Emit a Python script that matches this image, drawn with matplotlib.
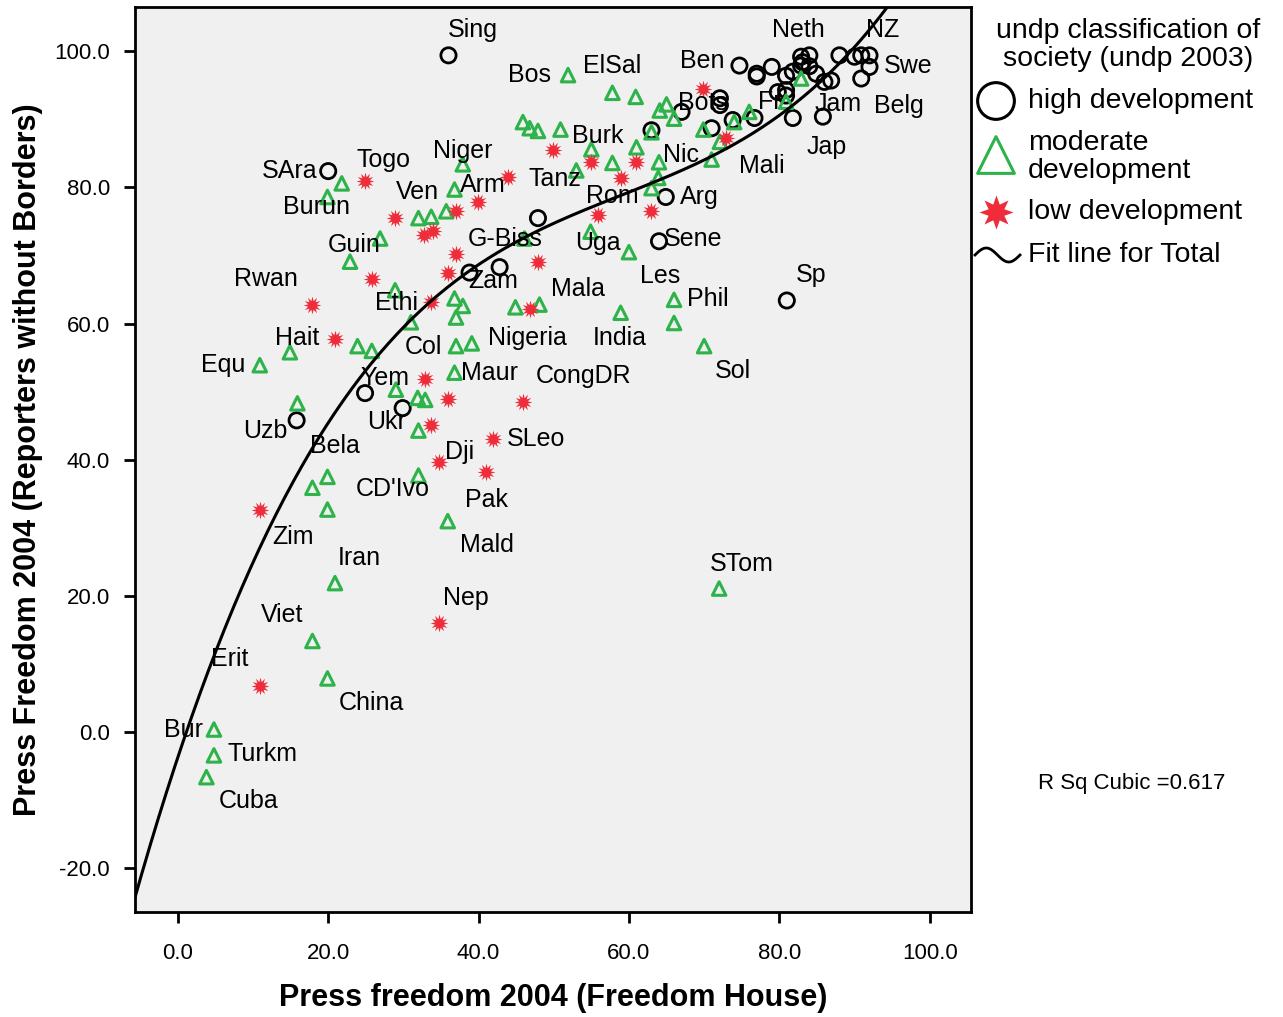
import numpy as np
import matplotlib.pyplot as plt

plt.rcParams['font.family'] = ['Liberation Sans', 'DejaVu Sans']

# high development (Kreise)
hi_x = [36, 20, 74.7, 77, 77, 79, 80.9, 81.8, 82.9, 83.1, 84, 82.9, 84, 84.9, 86, 86.9,
        88, 90, 90.9, 92, 92, 90.9, 79.8, 80.9, 80.9, 81.8, 85.8, 76.7, 72.1, 72.1, 73.8,
        71, 67, 63, 64.9, 64, 81, 47.9, 38.8, 42.8, 24.9, 29.9, 15.8]
hi_y = [99.4, 82.4, 97.9, 96.7, 96.3, 97.7, 96.4, 97, 99.2, 98.4, 99.4, 97.9, 97.8, 96.7, 95.5, 95.7,
        99.4, 99.2, 99.4, 99.4, 97.7, 96, 94, 94.3, 93.5, 90.2, 90.4, 90.2, 93.1, 92.1, 89.9,
        88.7, 91.1, 88.4, 78.6, 72.1, 63.4, 75.5, 67.5, 68.3, 49.8, 47.6, 45.8]

# moderate development (Dreiecke)
mod_x = [21.8, 19.9, 32, 33.7, 35.7, 36.8, 37.9, 26.9, 22.9, 28.9, 31, 23.9, 25.8, 14.9,
         10.9, 29, 31.9, 32.9, 32, 15.9, 36.8, 37.9, 37, 44.9, 48.1, 58.9, 66, 66, 70,
         37, 39.1, 36.8, 54.9, 60, 46.1, 51.9, 57.8, 60.9, 45.9, 46.8, 47.9, 50.9, 55,
         61, 57.8, 64, 63.9, 63, 53, 63, 64.1, 65, 66, 69.9, 71, 72.1, 74, 76, 80.9,
         82.9, 19.9, 17.9, 19.9, 32, 20.9, 17.9, 19.9, 35.9, 72, 4.8, 4.8, 3.8]
mod_y = [80.6, 78.6, 75.5, 75.7, 76.5, 79.7, 83.4, 72.5, 69.1, 64.9, 60.2, 56.7, 56, 55.8,
         53.9, 50.3, 49.1, 48.8, 44.3, 48.3, 63.7, 62.6, 60.9, 62.4, 62.8, 61.6, 63.5, 60.1, 56.7,
         56.7, 57.1, 52.8, 73.5, 70.5, 72.5, 96.5, 93.9, 93.3, 89.6, 88.7, 88.3, 88.5, 85.6,
         85.9, 83.6, 83.7, 81.4, 79.9, 82.5, 88.1, 91.3, 92.2, 90.1, 88.5, 84.1, 86.7, 89.6, 91.1, 92.6,
         96, 37.5, 35.9, 32.7, 37.7, 21.9, 13.4, 7.9, 31, 21.1, 0.4, -3.4, -6.6]

# low development (Sterne)
low_x = [24.9, 28.9, 32.8, 33.9, 37, 39.9, 43.9, 49.9, 55, 61, 58.9, 55.9, 63, 69.9, 72.9,
         25.8, 17.9, 20.9, 33.7, 32.9, 33.7, 37, 35.9, 47.9, 46.9, 35.9, 45.9, 41.9, 34.8,
         41, 34.8, 10.9, 10.9]
low_y = [81, 75.5, 73, 73.6, 76.5, 77.8, 81.5, 85.5, 83.7, 83.7, 81.4, 76, 76.5, 94.4, 87.2,
         66.6, 62.7, 57.8, 63.2, 51.9, 45.1, 70.3, 67.4, 69, 62.2, 49, 48.5, 43, 39.7,
         38.2, 16, 32.6, 6.8]

# Laenderkuerzel
names = ["Sing", "Bos", "ElSal", "Ben", "Neth", "NZ", "Swe", "Jam", "Belg", "Bots", "Fr",
         "Jap", "Mali", "Nic", "Burk", "Niger", "Togo", "SAra", "Burun", "Ven", "Arm",
         "Tanz", "Rom", "Arg", "Guin", "G-Biss", "Uga", "Sene", "Rwan", "Zam", "Les", "Sp",
         "Mala", "Phil", "Ethi", "Hait", "Col", "Nigeria", "India", "Equ", "Yem", "Maur",
         "CongDR", "Sol", "Ukr", "Uzb", "Bela", "Dji", "SLeo", "CD'Ivo", "Pak", "Mald",
         "Zim", "Iran", "STom", "Nep", "Viet", "Erit", "China", "Bur", "Turkm", "Cuba"]
name_x = [39.2, 46.8, 57.8, 69.8, 82.6, 93.8, 97.1, 87.8, 95.9, 69.8, 78.7,
          86.3, 77.7, 66.9, 55.9, 37.9, 27.3, 14.9, 18.5, 31.9, 40.6,
          50.1, 57.8, 69.4, 23.5, 43.6, 55.9, 68.5, 11.7, 41.9, 64.1, 84.2,
          53.2, 70.5, 29.1, 15.8, 32.6, 46.5, 58.8, 6.0, 27.5, 41.5,
          54.0, 73.8, 27.8, 11.6, 20.9, 37.5, 47.7, 28.6, 41.0, 41.1,
          15.3, 24.1, 75.0, 38.3, 13.8, 6.9, 25.8, 0.7, 11.2, 9.4]
name_y = [103.1, 96.5, 97.9, 98.5, 103.1, 103.1, 97.8, 92.2, 91.9, 92.4, 92.5,
          85.9, 83.1, 84.7, 87.5, 85.3, 84.0, 82.4, 77.1, 79.4, 80.3,
          81.2, 78.7, 78.6, 71.5, 72.5, 71.8, 72.5, 66.5, 66.2, 67.0, 67.1,
          65.1, 63.6, 63.0, 57.9, 56.5, 57.9, 57.9, 54.0, 52.0, 52.7,
          52.3, 53.0, 45.5, 44.3, 42.0, 41.1, 43.0, 35.7, 34.1, 27.5,
          28.6, 25.6, 24.7, 19.7, 17.2, 10.7, 4.3, 0.4, -3.2, -10.1]

green = "#2DB34A"
red = "#EE2C3A"

fig = plt.figure(figsize=(12.83, 10.17), dpi=100)
ax = fig.add_axes([135 / 1283, 1 - 912 / 1017, 836 / 1283, 905 / 1017])
ax.set_facecolor("#F0F0F0")

ax.scatter(hi_x, hi_y, s=120, facecolors="none", edgecolors="black", linewidths=2, zorder=3)
ax.scatter(mod_x, mod_y, s=95, marker="^", facecolors="none", edgecolors=green, linewidths=2.2, zorder=3)
ax.scatter(low_x, low_y, s=165, marker=(12, 1, 0), color=red, linewidths=0, zorder=3)

# kubische Regression ueber alle Punkte
all_x = np.array(hi_x + mod_x + low_x)
all_y = np.array(hi_y + mod_y + low_y)
coef = np.polyfit(all_x, all_y, 3)
xs = np.linspace(-6, 106, 400)
ax.plot(xs, np.polyval(coef, xs), color="black", lw=2.2, zorder=4)

for n, x, y in zip(names, name_x, name_y):
    ax.text(x, y, n, fontsize=18, ha="center", va="center", zorder=5)

ax.set_xlim(-5.7, 105.5)
ax.set_ylim(-26.4, 106.5)
ax.set_xticks(range(0, 101, 20))
ax.set_yticks(range(-20, 101, 20))
ax.set_xticklabels([f"{v:.1f}" for v in range(0, 101, 20)], fontsize=16)
ax.set_yticklabels([f"{v:.1f}" for v in range(-20, 101, 20)], fontsize=16)
ax.tick_params(direction="out", length=8, width=2, pad=10)
ax.tick_params(axis="x", pad=14)
for sp in ax.spines.values():
    sp.set_linewidth(2)

ax.set_xlabel("Press freedom 2004 (Freedom House)", fontsize=22, fontweight="bold", labelpad=14)
ax.set_ylabel("Press Freedom 2004 (Reporters without Borders)", fontsize=22, fontweight="bold", labelpad=8)

# Legende von Hand
def fx(px):
    return px / 1283

def fy(py):
    return 1 - py / 1017

fig.text(fx(1128), fy(45), "undp classification of\nsociety (undp 2003)", fontsize=20.5,
         ha="center", va="center", linespacing=1.08)
fig.text(fx(1028), fy(101), "high development", fontsize=20.5, va="center")
fig.text(fx(1028), fy(157), "moderate\ndevelopment", fontsize=20.5, va="center", linespacing=1.08)
fig.text(fx(1028), fy(212), "low development", fontsize=20.5, va="center")
fig.text(fx(1028), fy(255), "Fit line for Total", fontsize=20.5, va="center")

leg = fig.add_axes([0, 0, 1, 1], facecolor="none")
leg.set_xlim(0, 1283)
leg.set_ylim(1017, 0)
leg.axis("off")
leg.scatter([996], [101], s=700, facecolors="none", edgecolors="black", linewidths=2.2)
leg.scatter([996], [155], s=700, marker="^", facecolors="none", edgecolors=green, linewidths=2.2)
leg.scatter([996], [212], s=600, marker=(8, 1, 0), color=red, linewidths=0)
wx = np.linspace(975, 1020, 50)
leg.plot(wx, 255 + 7 * np.sin((wx - 975) / 45 * 2 * np.pi + np.pi), color="black", lw=2)

fig.text(fx(1132), fy(784), "R Sq Cubic =0.617", fontsize=16, ha="center", va="center")

fig.savefig("out.png", dpi=100, facecolor="white")
